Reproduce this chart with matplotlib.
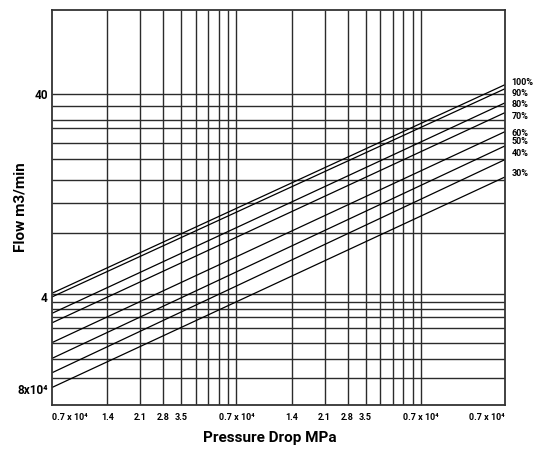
"""Valve flow chart: flow vs pressure drop at several openings (log-log)."""

import matplotlib

matplotlib.use("Agg")
import matplotlib.pyplot as plt  # noqa: E402
from matplotlib.ticker import NullLocator  # noqa: E402

plt.rcParams["font.family"] = ["Roboto", "DejaVu Sans"]
plt.rcParams["font.weight"] = "bold"

# ---------------------------------------------------------------------------
# Data
# ---------------------------------------------------------------------------

# pressure drop axis
x_range = [0.7, 198.0]
x_grid = [1.4, 2.1, 2.8, 3.5, 4.2, 4.9, 5.6, 6.3, 7.0,
          14, 21, 28, 35, 42, 49, 56, 63, 70]
x_tick_vals = [0.7, 1.4, 2.1, 2.8, 3.5, 7.0, 14, 21, 28, 35, 70, 198.0]
x_tick_labels = ["0.7 x 10⁴", "1.4", "2.1", "2.8", "3.5", "0.7 x 10⁴",
                 "1.4", "2.1", "2.8", "3.5", "0.7 x 10⁴", "0.7 x 10⁴"]

# flow axis
y_range = [1.173, 104.2]
y_grid = [40, 35.0, 29.7, 27.4, 22.9, 19.2, 15.05, 11.6, 8.25,
          4.14, 3.79, 3.48, 3.18, 2.80, 2.38, 1.98, 1.59]
y_tick_vals = [40, 4, 1.41]
y_tick_labels = ["40", "4", "8x10⁴"]

# valve opening curves: flow at the left and right ends of the axis
openings = ["100%", "90%", "80%", "70%", "60%", "50%", "40%", "30%"]
flow_start = [4.17, 4.00, 3.32, 2.98, 2.38, 1.99, 1.69, 1.43]
flow_end = [44.5, 42.5, 36.2, 32.4, 26.1, 22.2, 19.0, 15.6]


def main() -> None:
    fig = plt.figure(figsize=(5.49, 4.5), dpi=100)
    ax = fig.add_axes([0.0944, 0.1, 0.8246, 0.8778])
    ax.set_xscale("log")
    ax.set_yscale("log")
    ax.set_xlim(*x_range)
    ax.set_ylim(*y_range)

    grid_kw = dict(color="#2b2b2b", lw=1.0, zorder=1)
    ax.vlines(x_grid, *y_range, **grid_kw)
    ax.hlines(y_grid, *x_range, **grid_kw)

    label_dy = [1.7, -3, -1, -2.7, -1, 3.6, 4.8, 2.7]  # points, label vs line end
    for name, lo, hi, dy in zip(openings, flow_start, flow_end, label_dy):
        ax.plot(x_range, [lo, hi], color="black", lw=0.9, zorder=2)
        ax.annotate(name, xy=(x_range[1], hi), xytext=(5, dy),
                    textcoords="offset points", ha="left", va="center",
                    fontsize=6.5, fontweight="bold", annotation_clip=False)

    ax.xaxis.set_minor_locator(NullLocator())
    ax.yaxis.set_minor_locator(NullLocator())
    ax.set_xticks(x_tick_vals, x_tick_labels)
    ax.set_yticks(y_tick_vals, y_tick_labels)
    ax.tick_params(axis="x", length=0, pad=6, labelsize=6.5)
    ax.tick_params(axis="y", length=0, pad=3, labelsize=8.5)
    labels = ax.get_xticklabels()
    labels[0].set_ha("left")
    labels[-1].set_ha("right")

    for sp in ax.spines.values():
        sp.set_color("#333333")
        sp.set_linewidth(1.3)

    ax.set_xlabel("Pressure Drop MPa", fontsize=11, fontweight="bold")
    ax.set_ylabel("Flow m3/min", fontsize=11, fontweight="bold")
    ax.xaxis.set_label_coords(0.482, -0.065)
    ax.yaxis.set_label_coords(-0.054, 0.5)

    fig.savefig("out.png", dpi=100)
    plt.close(fig)


if __name__ == "__main__":
    main()
